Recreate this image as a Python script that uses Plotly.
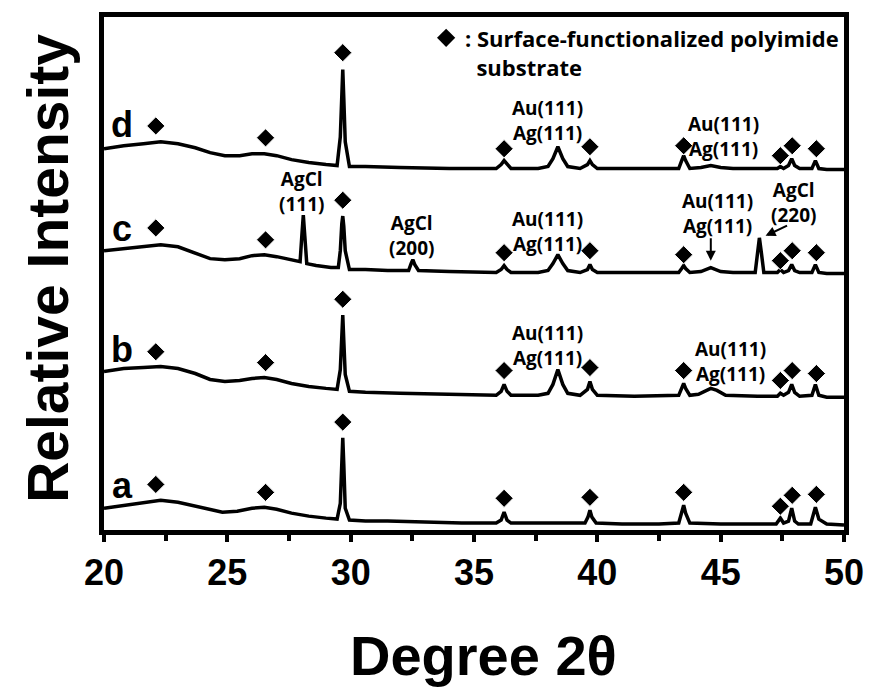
import plotly.graph_objects as go

# ---- XRD patterns (2-theta in degrees, stacked relative intensity) ----
two_theta_a = [20.0, 20.8, 21.6, 22.3, 23.0, 23.7, 24.3, 24.8, 25.4, 26.0, 26.5, 27.0, 27.6, 28.3,
               29.0, 29.45, 29.58, 29.64, 29.68, 29.72, 29.78, 29.95, 30.6, 31.5, 33.0, 34.5,
               35.9, 36.1, 36.22, 36.34, 36.5, 37.5, 38.5, 39.5, 39.62, 39.7, 39.78, 39.95,
               41.0, 42.5, 43.3, 43.42, 43.5, 43.58, 43.75, 45.0, 46.5, 47.25, 47.42, 47.55,
               47.75, 47.88, 48.0, 48.15, 48.65, 48.76, 48.84, 48.98, 49.3, 50.0]
intensity_a = [25, 28, 31, 33, 31, 27, 23, 21, 22, 25, 26, 24, 20, 17,
               15, 14, 30, 80, 96, 70, 25, 13, 12, 12, 11, 10,
               10, 13, 21, 13, 10, 10, 10, 10, 16, 23, 16, 10,
               9, 9, 10, 20, 28, 20, 10, 9, 9, 9, 15, 10,
               12, 25, 12, 9, 9, 18, 26, 14, 9, 8]

two_theta_b = [20.0, 20.8, 21.6, 22.3, 23.0, 23.7, 24.3, 24.9, 25.5, 26.0, 26.5, 27.0, 27.6, 28.3,
               29.0, 29.45, 29.58, 29.64, 29.68, 29.72, 29.78, 29.95, 30.6, 32.0, 34.0, 35.9,
               36.1, 36.22, 36.34, 36.5, 37.6, 38.0, 38.2, 38.4, 38.6, 38.8, 39.3, 39.6, 39.7,
               39.8, 40.0, 41.5, 43.3, 43.42, 43.5, 43.58, 43.75, 44.1, 44.4, 44.6, 44.85, 45.2,
               46.5, 47.3, 47.42, 47.55, 47.75, 47.88, 48.0, 48.2, 48.7, 48.84, 48.98, 49.3, 50.0]
intensity_b = [163, 166, 167, 168, 166, 161, 155, 153, 154, 156, 157, 155, 151, 148,
               146, 145, 165, 205, 220, 195, 160, 143, 142, 141, 140, 139,
               143, 150, 143, 139, 139, 141, 150, 165, 150, 141, 139, 145, 153,
               145, 139, 138, 139, 146, 151, 146, 139, 140, 144, 146, 144, 139,
               138, 138, 141, 139, 142, 150, 142, 138, 139, 150, 139, 137, 137]

two_theta_c = [20.0, 20.8, 21.6, 22.3, 23.0, 23.7, 24.3, 24.9, 25.5, 26.0, 26.5, 27.0, 27.6, 27.95,
               28.02, 28.08, 28.14, 28.22, 28.6, 29.2, 29.5, 29.58, 29.64, 29.68, 29.72, 29.78,
               29.95, 30.6, 31.5, 32.35, 32.45, 32.52, 32.6, 32.75, 34.0, 35.9, 36.1, 36.22,
               36.34, 36.5, 37.6, 38.0, 38.2, 38.4, 38.6, 38.8, 39.3, 39.6, 39.7, 39.8, 40.0,
               41.5, 43.3, 43.42, 43.5, 43.58, 43.75, 44.2, 44.6, 45.0, 45.5, 46.4, 46.5, 46.57,
               46.64, 46.75, 47.3, 47.42, 47.55, 47.75, 47.88, 48.0, 48.2, 48.7, 48.84, 48.98,
               49.3, 50.0]
intensity_c = [285, 287, 289, 291, 289, 283, 277, 276, 277, 280, 281, 279, 276, 274,
               300, 321, 300, 272, 270, 268, 268, 285, 312, 320, 310, 285,
               266, 266, 265, 265, 272, 276, 271, 265, 264, 263, 266, 270,
               266, 263, 263, 265, 272, 281, 272, 265, 263, 266, 271, 266, 263,
               263, 263, 267, 270, 267, 263, 264, 268, 264, 263, 263, 285, 298,
               285, 263, 263, 266, 263, 265, 271, 265, 263, 263, 271, 263,
               262, 262]

two_theta_d = [20.0, 20.8, 21.6, 22.3, 23.0, 23.7, 24.3, 24.9, 25.5, 26.0, 26.5, 27.0, 27.6, 28.3,
               29.0, 29.45, 29.58, 29.64, 29.68, 29.72, 29.78, 29.95, 30.6, 32.0, 34.0, 35.9,
               36.1, 36.22, 36.34, 36.5, 37.6, 38.0, 38.2, 38.4, 38.6, 38.8, 39.3, 39.6, 39.7,
               39.8, 40.0, 41.5, 43.3, 43.42, 43.5, 43.58, 43.75, 44.2, 44.6, 45.0, 45.5,
               47.3, 47.42, 47.55, 47.75, 47.88, 48.0, 48.2, 48.7, 48.84, 48.98, 49.3, 50.0]
intensity_d = [388, 391, 393, 395, 393, 389, 384, 381, 381, 383, 383, 381, 377, 374,
               372, 371, 400, 450, 468, 440, 395, 370, 370, 369, 368, 368,
               372, 376, 372, 368, 368, 370, 378, 390, 378, 370, 368, 372, 376,
               372, 368, 368, 368, 376, 381, 376, 368, 369, 371, 369, 368,
               368, 370, 368, 371, 378, 371, 368, 368, 376, 368, 367, 367]

# ---- polyimide substrate reflections (diamond markers) ----
diamond_two_theta = [22.1, 26.55, 29.68, 36.22, 39.7, 43.5, 47.42, 47.9, 48.88]
diamond_a = [49, 41, 112, 35, 36, 41, 27, 38, 39]
diamond_b = [183, 172, 236, 164, 167, 164, 154, 164, 161]
diamond_c = [308, 296, 336, 283, 285, 281, 275, 285, 283]
diamond_d = [411, 399, 485, 388, 390, 391, 381, 391, 388]

x_ticks = [20, 25, 30, 35, 40, 45, 50]

patterns = [
    (two_theta_a, intensity_a, diamond_a),
    (two_theta_b, intensity_b, diamond_b),
    (two_theta_c, intensity_c, diamond_c),
    (two_theta_d, intensity_d, diamond_d),
]

BOLD_SANS = "Liberation Sans, Arial, sans-serif"
LABEL_FONT = dict(family="Open Sans, sans-serif", size=19, color="black", weight="bold")
LEGEND_FONT = dict(family="Open Sans, sans-serif", size=22, color="black", weight="bold")

fig = go.Figure()
for tt, ii, dia in patterns:
    fig.add_trace(go.Scatter(x=tt, y=ii, mode="lines",
                             line=dict(color="black", width=3.5),
                             showlegend=False, hoverinfo="skip"))
    fig.add_trace(go.Scatter(x=diamond_two_theta, y=dia, mode="markers",
                             marker=dict(symbol="diamond", size=14, color="black",
                                         line=dict(color="white", width=1)),
                             showlegend=False, hoverinfo="skip"))

# legend key diamond
fig.add_trace(go.Scatter(x=[33.87], y=[500], mode="markers",
                         marker=dict(symbol="diamond", size=14, color="black"),
                         showlegend=False, hoverinfo="skip"))

annotations = []

# sample letters
for letter, yv in [("a", 48), ("b", 185), ("c", 307), ("d", 412)]:
    annotations.append(dict(x=20.74, y=yv, xref="x", yref="y", text=letter, showarrow=False,
                            xanchor="center", yanchor="middle",
                            font=dict(family=BOLD_SANS, size=36, color="black", weight="bold")))

# peak assignments (two-line labels, centred between the lines)
peak_labels = [
    (37.97, 417, "Au(111)<br>Ag(111)"),
    (45.13, 400, "Au(111)<br>Ag(111)"),
    (37.97, 304.5, "Au(111)<br>Ag(111)"),
    (44.89, 323, "Au(111)<br>Ag(111)"),
    (28.0, 345, "AgCl<br>(111)"),
    (32.47, 300, "AgCl<br>(200)"),
    (47.95, 333.5, "AgCl<br>(220)"),
    (37.97, 189.5, "Au(111)<br>Ag(111)"),
    (45.41, 173, "Au(111)<br>Ag(111)"),
]
for xv, yv, txt in peak_labels:
    annotations.append(dict(x=xv, y=yv, xref="x", yref="y", text=txt, showarrow=False,
                            xanchor="center", yanchor="middle", align="center",
                            font=LABEL_FONT))

# arrows in pattern c
annotations.append(dict(x=44.6, y=275, xref="x", yref="y", text="", showarrow=True,
                        ax=0, ay=-24, arrowhead=2, arrowsize=1, arrowwidth=2,
                        arrowcolor="black"))
annotations.append(dict(x=46.82, y=300, xref="x", yref="y", text="", showarrow=True,
                        ax=23, ay=-11, arrowhead=2, arrowsize=1, arrowwidth=2,
                        arrowcolor="black"))

# legend text
annotations.append(dict(x=34.55, y=485.5, xref="x", yref="y",
                        text=": Surface-functionalized polyimide<br>&nbsp;&nbsp;substrate",
                        showarrow=False, xanchor="left", yanchor="middle", align="left",
                        font=LEGEND_FONT))

# axis titles
annotations.append(dict(x=-0.075, y=0.51, xref="paper", yref="paper", text="Relative Intensity",
                        textangle=-90, showarrow=False, xanchor="center", yanchor="middle",
                        font=dict(family=BOLD_SANS, size=57, color="black", weight="bold")))
annotations.append(dict(x=0.513, y=-0.245, xref="paper", yref="paper", text="Degree 2θ",
                        showarrow=False, xanchor="center", yanchor="middle",
                        font=dict(family=BOLD_SANS, size=56, color="black", weight="bold")))

fig.update_layout(
    width=876, height=692,
    margin=dict(l=104, r=27, t=12, b=162),
    paper_bgcolor="white", plot_bgcolor="white",
    annotations=annotations,
    xaxis=dict(range=[20, 50], tickvals=x_ticks, ticktext=[str(v) for v in x_ticks],
               showline=True, linewidth=5, linecolor="black", mirror=True,
               ticks="outside", ticklen=7, tickwidth=4, tickcolor="black",
               minor=dict(dtick=2.5, tick0=20, ticks="outside", ticklen=6, tickwidth=4,
                          tickcolor="black"),
               tickfont=dict(family=BOLD_SANS, size=36, color="black", weight="bold"),
               showgrid=False, zeroline=False, fixedrange=True),
    yaxis=dict(range=[3, 521], showline=True, linewidth=5, linecolor="black", mirror=True,
               ticks="", showticklabels=False, showgrid=False, zeroline=False,
               fixedrange=True),
)

fig.write_html("out.html")
